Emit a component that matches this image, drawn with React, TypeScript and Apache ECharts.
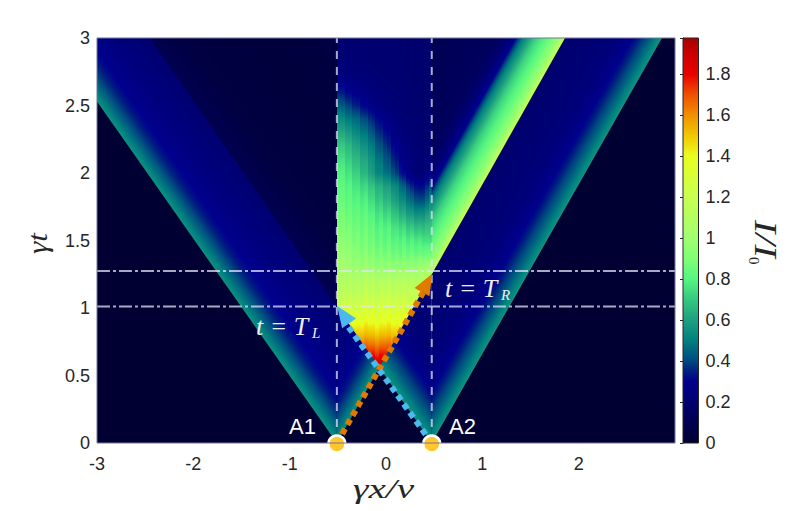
import React, { useEffect, useRef } from "react";
import * as echarts from "echarts";

// ---- tick labels / axis ranges
const xTicks = [-3, -2, -1, 0, 1, 2];
const barMax = 1.976;

// ---- colour scale (value, colour)
const scaleValues = [0, 0.1, 0.2, 0.3, 0.35, 0.4, 0.5, 0.6, 0.7, 0.8, 0.9, 1.0, 1.2, 1.4, 1.45, 1.5, 1.6, 1.7, 1.8, 1.9, 1.976];
const scaleColours = ["#000033", "#000052", "#000070", "#00008f", "#00207f", "#004880", "#00807f", "#1f9f80", "#35c880", "#55f680", "#80ff75", "#a0ff70", "#c8ff50", "#e8ff1e", "#f0e010", "#f0c800", "#f09000", "#f05000", "#e80000", "#cc0000", "#a80000"];

// ---- landmarks (gamma x / v, gamma t)
const A1 = [-0.51, 0];
const A2 = [0.475, 0];
const apex = [-0.069, 0.559];
const TL = 1.011;
const TR = 1.274;
const cornerR = [0.475, 1.25];

// ---- intensity along the wave-fronts, against time behind the front
const weakTau = [0, 0.1, 0.2, 0.3, 0.4, 0.6, 1.05];
const weakVal = [0.55, 0.47, 0.39, 0.33, 0.29, 0.25, 0.2];
const rightTau = [0, 0.105, 0.2, 0.33, 0.42, 0.63, 1.27];
const rightVal = [0.56, 0.48, 0.41, 0.33, 0.28, 0.23, 0.19];
const strongTau = [0, 0.03, 0.1, 0.2, 0.38, 0.55, 0.65, 0.77, 0.92, 1.78];
const strongVal = [1.22, 1.1, 0.95, 0.85, 0.72, 0.5, 0.3, 0.2, 0.14, 0.1];
const darkTau = [1.0, 1.4, 2.1, 2.7, 3.0];
const darkVal = [0.1, 0.05, 0.03, 0.04, 0.07];

// ---- interference region: one column per x, one row per t (values x 100)
const centralX = [-0.51, -0.47, -0.43, -0.39, -0.35, -0.31, -0.27, -0.23, -0.19, -0.15, -0.11, -0.07, -0.03, 0.01, 0.05, 0.09, 0.13, 0.17, 0.21, 0.25, 0.29, 0.33, 0.37, 0.41, 0.45, 0.49];
const columnStripe = [0, 2, -1, 2, -2, 1, -2, 3, -1, 2, -3, 2, -1, 3, -2, 1, -2, 3, -1, 2, -2, 1, -1, 1, 0];
const centralT = [0.55, 0.6, 0.65, 0.7, 0.75, 0.8, 0.85, 0.9, 1.0, 1.1, 1.2, 1.3, 1.4, 1.5, 1.6, 1.7, 1.8, 1.9, 2.0, 2.1, 2.2, 2.3, 2.4, 2.5, 2.6, 2.7, 2.8, 3.0];
const central = [
  [197,194,197,194,197,194,197,194,197,194,197,194,197,194,197,194,197,194,197,194,197,194,197,194,197],
  [190,186,190,186,190,186,190,186,190,186,190,186,190,186,190,186,190,186,190,186,190,186,190,186,190],
  [180,176,180,176,180,176,180,176,180,176,180,176,180,176,180,176,180,176,180,176,180,176,180,176,180],
  [172,167,172,167,172,167,172,167,172,167,172,167,172,167,172,167,172,167,172,167,172,167,172,167,172],
  [163,158,163,158,163,158,163,158,163,158,163,158,163,158,163,158,163,158,163,158,163,158,163,158,163],
  [154,149,154,149,154,149,154,149,154,149,154,149,154,149,154,149,154,149,154,149,154,149,154,149,154],
  [147,143,147,143,147,143,147,143,147,143,147,143,147,143,147,143,147,143,147,143,147,143,147,143,147],
  [140,137,140,137,140,137,140,137,140,137,140,137,140,137,140,137,140,137,140,137,140,137,140,137,140],
  [122,124,124,126,125,127,126,128,127,128,127,128,127,128,127,128,127,128,127,128,127,128,127,128,127],
  [113,114,114,115,115,116,116,117,117,117,117,118,118,118,118,118,118,118,118,118,118,118,118,118,118],
  [108,108,108,109,109,109,109,110,110,110,110,110,110,110,110,110,110,110,110,110,110,111,112,113,114],
  [103,102,101,100,100,99,99,98,98,97,97,96,96,96,96,96,96,96,96,97,98,99,100,102,104],
  [98,97,96,95,94,93,92,91,90,90,89,88,87,87,86,86,85,85,85,85,85,85,85,85,86],
  [94,93,92,91,90,89,88,87,86,85,84,83,82,82,81,80,80,79,78,78,78,77,76,75,75],
  [90,89,88,87,87,86,85,84,83,82,81,80,79,78,77,75,74,72,70,69,68,67,67,68,69],
  [87,86,85,84,84,83,82,81,80,78,77,75,73,72,70,67,64,62,59,57,55,54,55,58,62],
  [84,83,82,82,81,80,79,77,75,73,71,69,66,64,62,58,55,52,48,45,42,40,41,45,52],
  [82,81,80,79,78,76,74,72,70,68,66,63,60,58,55,52,47,43,39,35,33,31,32,36,42],
  [79,78,76,75,73,71,67,64,61,57,54,51,48,45,42,38,34,30,27,24,22,21,22,25,29],
  [75,74,72,70,68,66,63,60,57,54,50,47,43,40,36,33,29,27,25,23,22,21,21,22,24],
  [70,69,67,65,63,60,57,54,51,48,44,41,38,34,31,28,26,24,23,22,21,21,20,21,22],
  [62,61,59,57,55,52,50,47,44,41,38,35,32,30,27,25,24,23,22,21,20,20,20,20,20],
  [53,52,50,48,47,45,42,39,37,34,32,29,27,26,24,23,22,21,21,20,20,20,20,20,20],
  [44,42,40,38,36,34,31,29,28,26,25,24,23,22,22,21,21,20,20,20,20,20,19,19,19],
  [34,33,31,30,29,28,26,25,24,23,23,22,22,21,21,21,20,20,20,20,20,19,19,19,19],
  [27,26,25,25,24,24,23,23,22,22,21,21,21,20,20,20,20,20,20,19,19,19,19,19,19],
  [22,22,22,22,21,21,21,21,21,21,20,20,20,20,20,20,20,20,19,19,19,19,19,19,19],
  [20,20,20,20,20,20,20,20,20,20,20,20,20,20,20,19,19,19,19,19,19,19,19,19,19],
];

// ---- regions: polygon in data units, front origin, front direction (dx, dt), profile
const regions = [
  { pts: [A1, [-3, 2.53], [-3, 3], [-2.45, 3], [A1[0], TL]], origin: A1, dir: [-2.49, 2.53], taus: weakTau, vals: weakVal },
  { pts: [A1, apex, [A1[0], TL]], origin: A1, dir: [2.368, 3], taus: weakTau, vals: weakVal },
  { pts: [[A1[0], TL], [-2.45, 3], [A1[0], 3]], origin: A1, dir: [-2.49, 2.53], taus: darkTau, vals: darkVal },
  { pts: [A2, [2.865, 3], [1.858, 3], cornerR], origin: A2, dir: [2.39, 3], taus: rightTau, vals: rightVal },
  { pts: [A2, cornerR, apex], origin: A2, dir: [-0.985, 1.011], taus: rightTau, vals: rightVal },
  { pts: [cornerR, [1.858, 3], [A2[0], 3]], origin: A1, dir: [2.368, 3], taus: strongTau, vals: strongVal },
];

// ---- annotations
const vDashes = [A1[0], A2[0]];
const hDashes = [TL, TR];
const blueStem = [[A2[0], 0], [-0.395, 0.865]];
const orangeStem = [[A1[0], 0], [0.385, 1.115]];
const blueHead = [[-0.445, 0.95]];
const orangeHead = [[0.427, 1.185]];
const emitters = [[A1[0], 0], [A2[0], 0]];

const parse = (c: string) => [1, 3, 5].map((i) => parseInt(c.slice(i, i + 2), 16));
const colourAt = (v: number) => {
  const last = scaleValues.length - 1;
  if (v <= scaleValues[0]) return scaleColours[0];
  if (v >= scaleValues[last]) return scaleColours[last];
  let i = 0;
  while (scaleValues[i + 1] < v) i++;
  const f = (v - scaleValues[i]) / (scaleValues[i + 1] - scaleValues[i]);
  const a = parse(scaleColours[i]);
  const b = parse(scaleColours[i + 1]);
  const m = a.map((p, k) => Math.round(p + (b[k] - p) * f));
  return `rgb(${m[0]},${m[1]},${m[2]})`;
};

// colour stops along a profile, with extra stops so the gradient follows the colour scale
const profileStops = (pos: number[], vals: number[], from: number, to: number) => {
  const out: { offset: number; color: string }[] = [];
  const steps = 4;
  for (let i = 0; i < pos.length - 1; i++) {
    for (let s = 0; s < steps; s++) {
      const f = s / steps;
      const p = pos[i] + (pos[i + 1] - pos[i]) * f;
      const v = vals[i] + (vals[i + 1] - vals[i]) * f;
      out.push({ offset: (p - from) / (to - from), color: colourAt(v) });
    }
  }
  const n = pos.length - 1;
  out.push({ offset: (pos[n] - from) / (to - from), color: colourAt(vals[n]) });
  return out;
};

const renderRegion = (_p: any, api: any) => {
  const r = regions[api.value(0)];
  const points = r.pts.map((q) => api.coord(q));
  const o = api.coord(r.origin);
  const far = api.coord([r.origin[0] + r.dir[0], r.origin[1] + r.dir[1]]);
  const dx = far[0] - o[0];
  const dy = far[1] - o[1];
  const len = Math.hypot(dx, dy);
  const nx = -dy / len;
  const ny = dx / len;
  const tauMax = r.taus[r.taus.length - 1];
  const up = api.coord([r.origin[0], r.origin[1] + tauMax]);
  const l = (up[0] - o[0]) * nx + (up[1] - o[1]) * ny;
  const fill = new echarts.graphic.LinearGradient(o[0], o[1], o[0] + nx * l, o[1] + ny * l, profileStops(r.taus, r.vals, 0, tauMax), true);
  return { type: "polygon", shape: { points }, style: { fill } };
};

const renderColumn = (_p: any, api: any) => {
  const c = api.value(0);
  const t0 = centralT[0];
  const t1 = centralT[centralT.length - 1];
  const a = api.coord([centralX[c], t0]);
  const b = api.coord([centralX[c + 1], t1]);
  const x0 = Math.round(a[0]);
  const x1 = Math.round(b[0]);
  const vals = central.map((row) => (row[c] / 100) * (1 + columnStripe[c] / 100));
  const fill = new echarts.graphic.LinearGradient(0, a[1], 0, b[1], profileStops(centralT, vals, t0, t1), true);
  return { type: "rect", shape: { x: x0, y: b[1], width: x1 - x0, height: a[1] - b[1] }, style: { fill } };
};

const renderBar = (_p: any, api: any) => {
  const a = api.coord([0, 0]);
  const b = api.coord([1, barMax]);
  const fill = new echarts.graphic.LinearGradient(0, a[1], 0, b[1], scaleValues.map((v, i) => ({ offset: v / barMax, color: scaleColours[i] })), true);
  return { type: "rect", shape: { x: a[0], y: b[1], width: b[0] - a[0], height: a[1] - b[1] }, style: { fill } };
};

const ink = "#262626";
const sans = "'Liberation Sans', Arial, sans-serif";
const serif = "'Liberation Serif', serif";
const white = "#eeeef6";

const mathText = (x: number, y: number, text: string, size: number, extra: any = {}) => ({
  type: "text",
  x,
  y,
  z: 100,
  silent: true,
  style: { text, fill: white, font: `italic ${size}px ${serif}`, ...extra },
});

export default function App() {
  const ref = useRef<HTMLDivElement>(null);
  useEffect(() => {
    const chart = echarts.init(ref.current!, undefined, { renderer: "svg" });
    const stem = (data: number[][], color: string, z: number) => ({
      type: "line",
      data,
      symbol: "none",
      z,
      silent: true,
      lineStyle: { color, width: 6, type: [6, 4.5] },
    });
    const head = (data: number[][], color: string, rot: number, z: number) => ({
      type: "scatter",
      data,
      symbol: "triangle",
      symbolSize: [17, 21],
      symbolRotate: rot,
      z,
      silent: true,
      itemStyle: { color, opacity: 1 },
    });
    chart.setOption({
      animation: false,
      backgroundColor: "#ffffff",
      grid: [
        { left: 97, top: 38, width: 578, height: 405, show: true, backgroundColor: "#000033", borderWidth: 0 },
        { left: 683, top: 38, width: 15.5, height: 405 },
      ],
      xAxis: [
        {
          type: "value",
          min: -3,
          max: 3,
          interval: 1,
          splitLine: { show: false },
          axisLine: { show: false },
          axisTick: { show: false },
          axisLabel: {
            color: ink,
            fontFamily: sans,
            fontSize: 18,
            margin: 12,
            formatter: (v: number) => (xTicks.includes(v) ? String(v) : ""),
          },
        },
        { type: "value", gridIndex: 1, min: 0, max: 1, show: false },
      ],
      yAxis: [
        {
          type: "value",
          min: 0,
          max: 3,
          interval: 0.5,
          splitLine: { show: false },
          axisLine: { show: false },
          axisTick: { show: false },
          axisLabel: { color: ink, fontFamily: sans, fontSize: 18, margin: 7 },
        },
        {
          type: "value",
          gridIndex: 1,
          position: "right",
          min: 0,
          max: barMax,
          interval: 0.2,
          splitLine: { show: false },
          axisLine: { show: true, lineStyle: { color: ink, width: 1 } },
          axisTick: { show: true, inside: true, length: 3, lineStyle: { color: ink, width: 1 } },
          axisLabel: {
            color: ink,
            fontFamily: sans,
            fontSize: 18,
            margin: 7,
            formatter: (v: number) => (v === barMax ? "" : String(v)),
          },
        },
      ],
      series: [
        { type: "custom", z: 1, silent: true, renderItem: renderColumn, data: central[0].map((_, i) => [i, 0]) },
        { type: "custom", z: 2, silent: true, renderItem: renderRegion, data: regions.map((_, i) => [i, 0]) },
        ...vDashes.map((x) => ({
          type: "line",
          z: 3,
          silent: true,
          symbol: "none",
          data: [[x, 0], [x, 3]],
          lineStyle: { color: "rgba(225,225,245,0.75)", width: 2, type: [8, 8] },
        })),
        ...hDashes.map((t) => ({
          type: "line",
          z: 3,
          silent: true,
          symbol: "none",
          data: [[-3, t], [3, t]],
          lineStyle: { color: "rgba(225,225,245,0.75)", width: 1.8, type: [13, 3, 3, 3] },
        })),
        stem(orangeStem, "#e07b00", 4),
        head(orangeHead, "#e07b00", -29, 4),
        stem(blueStem, "#4db8f0", 5),
        head(blueHead, "#4db8f0", 34.7, 5),
        {
          type: "scatter",
          data: emitters,
          z: 6,
          clip: false,
          silent: true,
          symbol: "circle",
          symbolSize: 17,
          symbolOffset: [0, 1],
          itemStyle: { color: "#ffc72c", borderColor: "#ffffff", borderWidth: 2.5, opacity: 1 },
        },
        { type: "custom", xAxisIndex: 1, yAxisIndex: 1, z: 1, silent: true, renderItem: renderBar, data: [[0, 0]] },
      ],
      graphic: [
        { type: "rect", z: 99, silent: true, shape: { x: 97, y: 38, width: 578, height: 405 }, style: { fill: "none", stroke: "#74749a", lineWidth: 1 } },
        { type: "rect", z: 99, silent: true, shape: { x: 683, y: 38, width: 15.5, height: 405 }, style: { fill: "none", stroke: ink, lineWidth: 1 } },
        { type: "text", x: 289, y: 415, z: 100, silent: true, style: { text: "A1", fill: "#ffffff", font: `22px ${sans}` } },
        { type: "text", x: 449, y: 415, z: 100, silent: true, style: { text: "A2", fill: "#ffffff", font: `22px ${sans}` } },
        mathText(256, 313, "t = T", 26),
        mathText(312, 325, "L", 15),
        mathText(445, 275, "t = T", 26),
        mathText(501, 287, "R", 15),
        { ...mathText(353, 475, "γx/v", 28, { fill: ink }), scaleX: 1.4 },
        { ...mathText(24, 254, "γt", 27, { fill: ink }), rotation: Math.PI / 2, scaleX: 1.15 },
        {
          type: "group",
          x: 782,
          y: 220,
          rotation: -Math.PI / 2,
          z: 100,
          silent: true,
          children: [
            { type: "text", x: 0, y: 0, z: 100, scaleX: 1.25, style: { text: "I/I", fill: ink, font: `italic 32px ${serif}` } },
            { type: "text", x: 37, y: 21, z: 100, style: { text: "0", fill: ink, font: `15px ${serif}` } },
          ],
        },
      ],
    });
    return () => chart.dispose();
  }, []);
  return <div ref={ref} style={{ position: "absolute", left: 0, top: 0, width: 790, height: 511 }} />;
}
